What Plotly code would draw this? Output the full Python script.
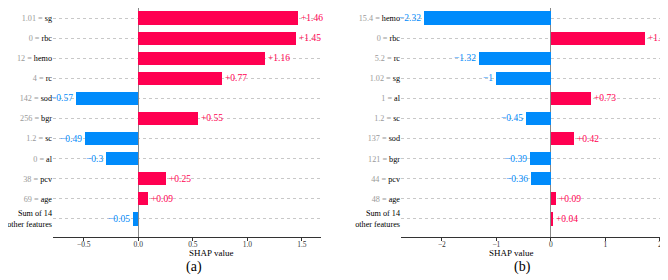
import plotly.graph_objects as go
from plotly.subplots import make_subplots

# Panel (a)
a_features = ["sg", "rbc", "hemo", "rc", "sod", "bgr", "sc", "al", "pcv", "age"]
a_feature_values = ["1.01", "0", "12", "4", "142", "256", "1.2", "0", "38", "69"]
a_shap = [1.46, 1.45, 1.16, 0.77, -0.57, 0.55, -0.49, -0.3, 0.25, 0.09, -0.05]

# Panel (b)
b_features = ["hemo", "rbc", "rc", "sg", "al", "sc", "sod", "bgr", "pcv", "age"]
b_feature_values = ["15.4", "0", "5.2", "1.02", "1", "1.2", "137", "121", "44", "48"]
b_shap = [-2.32, 1.72, -1.32, -1.0, 0.73, -0.45, 0.42, -0.39, -0.36, 0.09, 0.04]

other_label = "Sum of 14<br>other features"
a_ticks_x = [-0.5, 0.0, 0.5, 1.0, 1.5]
a_ticks_text = ["\u22120.5", "0.0", "0.5", "1.0", "1.5"]
b_ticks_x = [-2, -1, 0, 1, 2]
b_ticks_text = ["\u22122", "\u22121", "0", "1", "2"]

RED = "#ff0051"
BLUE = "#008bfb"
FONT = "Liberation Serif, Times New Roman, Times, serif"

W, H = 660, 272          # page body has an 8px margin
PH = 229                 # plot-area height in px

fig = make_subplots(rows=1, cols=2, horizontal_spacing=0.12)


def fmt(v):
    s = ("%.2f" % abs(v)).rstrip("0").rstrip(".")
    return ("+" if v >= 0 else "\u2212") + s


def ticklabels(vals, feats):
    out = ["<span style='color:#999999'>%s = </span>%s" % (v, f) for v, f in zip(vals, feats)]
    out.append(other_label)
    return out


panels = [
    (1, a_shap, ticklabels(a_feature_values, a_features), [-0.782, 1.675], a_ticks_x, a_ticks_text),
    (2, b_shap, ticklabels(b_feature_values, b_features), [-2.75, 2.15], b_ticks_x, b_ticks_text),
]

for col, shap, labels, xr, tx, tt in panels:
    ys = list(range(len(shap)))
    colors = [RED if v >= 0 else BLUE for v in shap]
    fig.add_trace(
        go.Bar(x=shap, y=ys, orientation="h", width=0.66,
               marker=dict(color=colors, line=dict(width=0)),
               showlegend=False, hoverinfo="skip"),
        row=1, col=col)
    xref = "x" if col == 1 else "x2"
    yref = "y" if col == 1 else "y2"
    for y, v, c in zip(ys, shap, colors):
        fig.add_annotation(x=v, y=y, xref=xref, yref=yref, text=fmt(v), showarrow=False,
                           xanchor="left" if v >= 0 else "right",
                           xshift=1 if v >= 0 else -1,
                           font=dict(family=FONT, size=9.5, color=c))
    fig.update_xaxes(range=xr, tickvals=tx, ticktext=tt, showgrid=False, automargin=False,
                     zeroline=True, zerolinecolor="#888888", zerolinewidth=1,
                     showline=True, linecolor="#333333", linewidth=1,
                     ticks="outside", ticklen=3, tickcolor="#333333", ticklabelstandoff=-3,
                     tickfont=dict(family=FONT, size=7.5, color="#333333"),
                     row=1, col=col)
    fig.update_yaxes(range=[len(shap) - 0.1, -0.5], tickvals=ys, ticktext=labels, automargin=False,
                     showgrid=True, gridcolor="#c8c8c8", griddash="dot", gridwidth=1,
                     zeroline=False, showline=False, ticks="",
                     tickfont=dict(family=FONT, size=8.2, color="#000000"),
                     row=1, col=col)

fig.update_xaxes(domain=[45 / W, 313 / W], row=1, col=1)
fig.update_xaxes(domain=[393 / W, 1.0], row=1, col=2)

# axis titles and panel tags
for xc in (179, 526.5):
    fig.add_annotation(x=xc / W, y=-16 / PH, xref="paper", yref="paper", text="SHAP value",
                       showarrow=False, font=dict(family=FONT, size=9, color="#000000"), yanchor="middle")
for xc, tag in ((176, "(a)"), (525, "(b)")):
    fig.add_annotation(x=xc / W, y=-29.5 / PH, xref="paper", yref="paper", text=tag,
                       showarrow=False, font=dict(family=FONT, size=14, color="#000000"), yanchor="middle")

fig.update_layout(width=W, height=H, margin=dict(l=0, r=0, t=0, b=H - PH, autoexpand=False),
                  plot_bgcolor="white", paper_bgcolor="white",
                  bargap=0, font=dict(family=FONT))

fig.write_html("out.html")
